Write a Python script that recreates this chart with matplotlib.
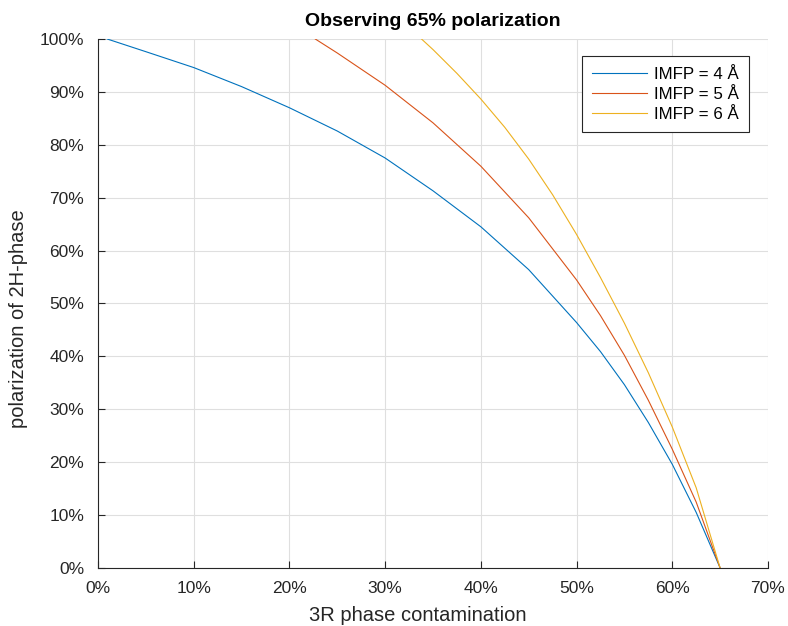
import numpy as np
import matplotlib
matplotlib.use("Agg")
import matplotlib.pyplot as plt
from matplotlib.ticker import FuncFormatter

plt.rcParams['font.family'] = ['Liberation Sans', 'DejaVu Sans']

# values (x = 3R contamination %, y = 2H polarization %)
imfp4_x = [0.96, 5, 10, 15, 20, 25, 30, 35, 40, 45, 50, 52.5, 55, 57.5, 60, 62.5, 65]
imfp4_y = [100, 97.6, 94.6, 91.0, 87.0, 82.6, 77.5, 71.3, 64.5, 56.4, 46.4, 40.9, 34.65, 27.5, 19.6, 10.5, 0]

imfp5_x = [22.7, 25, 30, 35, 40, 45, 50, 52.5, 55, 57.5, 60, 62.5, 65]
imfp5_y = [100, 97.35, 91.25, 84.15, 75.95, 66.2, 54.45, 47.7, 40.2, 31.7, 22.45, 12.45, 0]

imfp6_x = [33.8, 35, 37.5, 40, 42.5, 45, 47.5, 50, 52.5, 55, 57.5, 60, 62.5, 65]
imfp6_y = [100, 98.0, 93.5, 88.65, 83.3, 77.3, 70.55, 63.05, 54.9, 46.27, 36.9, 26.65, 15.15, 0]

labels = ['IMFP = 4 Å', 'IMFP = 5 Å', 'IMFP = 6 Å']
colors = ['#0072BD', '#D95319', '#EDB120']

fig = plt.figure(figsize=(7.88, 6.26), dpi=100)
ax = fig.add_axes([0.1244, 0.0927, 0.8502, 0.845])

series = [(imfp4_x, imfp4_y), (imfp5_x, imfp5_y), (imfp6_x, imfp6_y)]
for (xs, ys), lab, col in zip(series, labels, colors):
    ax.plot(np.array(xs) / 100, np.array(ys) / 100, color=col, lw=0.8, label=lab)

ax.set_xlim(0, 0.7)
ax.set_ylim(0, 1.0)
ax.set_xticks(np.arange(0, 0.71, 0.1))
ax.set_yticks(np.arange(0, 1.01, 0.1))
pct = FuncFormatter(lambda v, _: f"{v * 100:.0f}%")
ax.xaxis.set_major_formatter(pct)
ax.yaxis.set_major_formatter(pct)

ax.grid(True, color='#dfdfdf', lw=0.8)
ax.set_axisbelow(True)
ax.spines['top'].set_visible(False)
ax.spines['right'].set_visible(False)
for s in ['left', 'bottom']:
    ax.spines[s].set_color('#262626')
    ax.spines[s].set_linewidth(0.8)
ax.tick_params(direction='in', length=5, width=0.8, color='#262626',
               labelsize=12.5, labelcolor='#262626')
ax.tick_params(axis='x', pad=9.5)
ax.tick_params(axis='y', pad=10)

ax.set_xlabel('3R phase contamination', fontsize=14.5, color='#262626')
ax.set_ylabel('polarization of 2H-phase', fontsize=14.5, color='#262626')
# labels sit a bit toward the origin in the original
ax.xaxis.set_label_coords(0.4776, -0.071)
ax.yaxis.set_label_coords(-0.104, 0.4707)
ax.set_title('Observing 65% polarization', fontsize=14, fontweight='bold', pad=9)

leg = ax.legend(loc='upper right', bbox_to_anchor=(0.972, 0.967), borderaxespad=0,
                fontsize=12.2, handlelength=3.25, handletextpad=0.4, fancybox=False,
                framealpha=1, edgecolor='#262626', borderpad=0.6, labelspacing=0.3)
leg.get_frame().set_linewidth(0.8)

fig.savefig('out.png', dpi=100)
